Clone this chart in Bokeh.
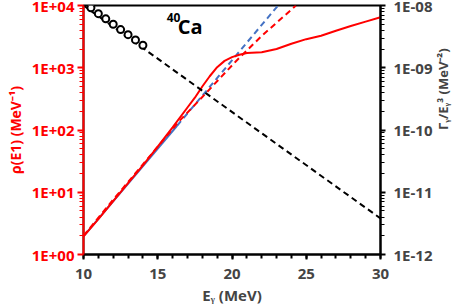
import math
from bokeh.plotting import figure
from bokeh.models import (LogAxis, Range1d, LogScale, FixedTicker,
                          CustomJSTickFormatter, Label)
from bokeh.embed import file_html
from bokeh.resources import INLINE

# --- data ---
# rho(E1) level density (left axis), solid red curve
energy_rho = [10, 11, 12, 13, 14, 15, 16, 17, 17.5, 18, 18.5, 19, 19.5, 20,
              20.5, 21, 22, 23, 24, 25, 26, 27, 28, 29, 30]
rho_e1 = [1.95, 3.7, 7.2, 14, 27, 54, 110, 230, 330, 500, 730, 1020, 1290,
          1480, 1620, 1720, 1780, 2000, 2430, 2880, 3270, 3940, 4680, 5500, 6460]

# red dashed fit
energy_red_fit = [10, 12, 14, 15, 16.4, 18, 20.25, 22, 24.07, 24.3]
rho_red_fit = [2.0, 7.6, 28, 54, 135, 339, 1260, 3240, 8910, 10000]

# blue fit: solid part then dashed extension
energy_blue_solid = [10, 16.3]
rho_blue_solid = [1.95, 117]
energy_blue_dash = [16.3, 23.1]
rho_blue_dash = [117, 10000]

# Gamma/E^3 (right axis): data points and dashed trend
energy_gamma_pts = [10.5, 11.0, 11.5, 12.0, 12.5, 13.0, 13.5, 14.0]
gamma_pts = [9.2e-9, 7.4e-9, 6.1e-9, 5.0e-9, 4.1e-9, 3.4e-9, 2.8e-9, 2.3e-9]
energy_gamma_line = [10, 30]
gamma_line = [1.0e-8, 3.8e-12]

x_ticks = [10, 15, 20, 25, 30]
left_ticks = [1, 10, 100, 1000, 10000]
right_ticks = [1e-12, 1e-11, 1e-10, 1e-9, 1e-8]

RED = "#FF0000"
BLUE = "#4472C4"
FONT = "Open Sans"

p = figure(width=464, height=315, x_range=(10, 30), y_range=(1, 1e4),
           y_axis_type="log", output_backend="svg", toolbar_location=None,
           min_border_left=83, min_border_right=83, min_border_top=13,
           min_border_bottom=52, margin=(-8, 0, 0, 0))
p.xgrid.visible = False
p.ygrid.visible = False
p.outline_line_color = "black"
p.outline_line_width = 2
p.background_fill_color = "white"
p.border_fill_color = "white"

p.extra_y_ranges = {"right": Range1d(1e-12, 1e-8)}
p.extra_y_scales = {"right": LogScale()}

fmt = CustomJSTickFormatter(code="""
const e = Math.round(Math.log10(tick));
const s = e < 0 ? "-" : "+";
const a = Math.abs(e);
return "1E" + s + (a < 10 ? "0" : "") + a;
""")

def minor(ticks):
    out = []
    for t in ticks[:-1]:
        out += [t * m for m in range(2, 10)]
    return out

# x axis
xa = p.xaxis[0]
xa.ticker = FixedTicker(ticks=x_ticks, minor_ticks=list(range(10, 31)))
xa.axis_label = "E\u1d67 (MeV)"
xa.axis_line_width = 2
xa.axis_line_color = "black"
xa.major_tick_line_color = "black"
xa.minor_tick_line_color = "black"
xa.major_tick_line_width = 2
xa.minor_tick_line_width = 2
xa.major_tick_out = 5
xa.major_tick_in = 0
xa.minor_tick_out = 4
xa.minor_tick_in = 0
xa.major_label_text_font = FONT
xa.major_label_text_font_style = "bold"
xa.major_label_text_font_size = "15px"
xa.major_label_standoff = 9
xa.axis_label_text_font = FONT
xa.axis_label_text_font_style = "bold"
xa.axis_label_text_font_size = "15px"
xa.axis_label_standoff = 3

# left axis
ya = p.yaxis[0]
ya.ticker = FixedTicker(ticks=left_ticks, minor_ticks=minor(left_ticks))
ya.formatter = fmt
ya.axis_label = "\u03c1(E1) (MeV\u207b\u00b9)"
ya.axis_line_width = 2
ya.axis_line_color = RED
ya.major_tick_line_color = RED
ya.minor_tick_line_color = RED
ya.major_tick_line_width = 2
ya.minor_tick_line_width = 1
ya.major_tick_out = 6
ya.major_tick_in = 0
ya.minor_tick_out = 4
ya.minor_tick_in = 0
ya.major_label_text_color = RED
ya.major_label_text_font = FONT
ya.major_label_text_font_style = "bold"
ya.major_label_text_font_size = "15px"
ya.major_label_standoff = 3
ya.axis_label_text_color = RED
ya.axis_label_text_font = FONT
ya.axis_label_text_font_style = "bold"
ya.axis_label_text_font_size = "14px"
ya.axis_label_standoff = 4

# right axis
ra = LogAxis(y_range_name="right")
ra.ticker = FixedTicker(ticks=right_ticks, minor_ticks=minor(right_ticks))
ra.formatter = fmt
ra.axis_label = "\u0393\u1d67/E\u1d67\u00b3 (MeV\u207b\u00b2)"
ra.axis_label_orientation = math.pi / 2
ra.axis_line_width = 2
ra.axis_line_color = "black"
ra.major_tick_line_color = "black"
ra.minor_tick_line_color = "black"
ra.major_tick_line_width = 2
ra.minor_tick_line_width = 1
ra.major_tick_out = 5
ra.major_tick_in = 0
ra.minor_tick_out = 4
ra.minor_tick_in = 0
ra.major_label_text_font = FONT
ra.major_label_text_font_style = "bold"
ra.major_label_text_font_size = "15px"
ra.major_label_standoff = 8
ra.axis_label_text_font = FONT
ra.axis_label_text_font_style = "bold"
ra.axis_label_text_font_size = "13px"
ra.axis_label_standoff = 8
p.add_layout(ra, "right")

# curves
p.line(energy_blue_solid, rho_blue_solid, line_color=BLUE, line_width=2)
p.line(energy_blue_dash, rho_blue_dash, line_color=BLUE, line_width=2,
       line_dash="6 4")
p.line(energy_red_fit, rho_red_fit, line_color=RED, line_width=2,
       line_dash="6 4")
p.line(energy_rho, rho_e1, line_color=RED, line_width=2)
p.line(energy_gamma_line, gamma_line, line_color="black", line_width=2,
       line_dash="6 4", y_range_name="right")
p.scatter(energy_gamma_pts, gamma_pts, size=7, fill_color="white",
          line_color="black", line_width=2, y_range_name="right")

p.add_layout(Label(x=15.6, y=6430, text="40", text_font=FONT,
                   text_color="black", text_font_style="bold",
                   text_font_size="12px", text_baseline="alphabetic"))
p.add_layout(Label(x=16.35, y=4600, text="Ca", text_font=FONT,
                   text_color="black", text_font_style="bold",
                   text_font_size="20px", text_baseline="alphabetic"))

open("out.html", "w").write(file_html(p, INLINE))
